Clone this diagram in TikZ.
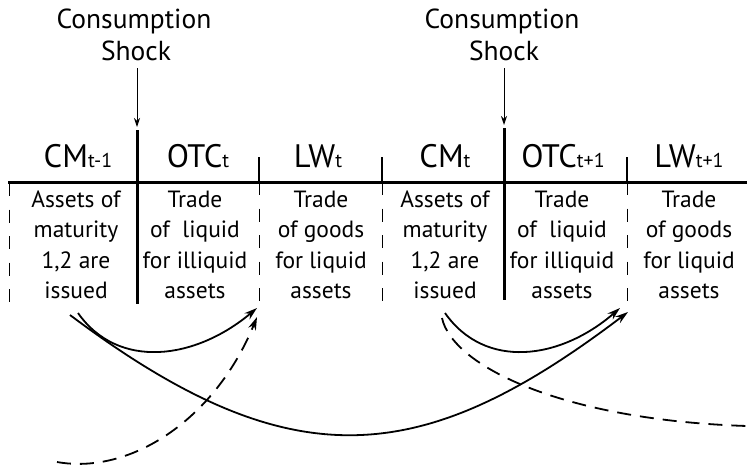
\documentclass[tikz,border=0pt]{standalone}
\usepackage{fontspec}
\setmainfont{PT Sans}
\usetikzlibrary{arrows.meta}
\newcommand\tsub[1]{{\fontsize{20}{23}\selectfont #1}}
\newcommand\bodycol[6]{%
  \node[body] (#1a) at (#2,207) {#3};
  \node[body] (#1b) at (#2,237.5) {#4};
  \node[body] (#1c) at (#2,268) {#5};
  \node[body] (#1d) at (#2,298.5) {#6};
}
\begin{document}
\begin{tikzpicture}[x=1pt,y=-1pt,
  body/.style={font=\fontsize{23.5}{27}\selectfont, anchor=base, inner sep=0pt},
  head/.style={font=\fontsize{32.5}{37}\selectfont, anchor=base, inner sep=0pt},
  shocktxt/.style={font=\fontsize{27.5}{31}\selectfont, anchor=base, inner sep=0pt},
  timeline/.style={line width=3pt},
  divider/.style={line width=3pt},
  tick/.style={line width=2.5pt},
  dashdiv/.style={line width=1pt, dash pattern=on 13pt off 13.5pt},
  shockarrow/.style={line width=1pt, -{Stealth[length=9pt,width=6pt]}},
  flow/.style={line width=1.8pt, -{Stealth[length=13pt,width=8pt]}},
  dashflow/.style={line width=1.8pt, dash pattern=on 14pt off 9pt},
  dflow/.style={flow, dashflow}
]
\useasboundingbox (0,0) rectangle (747,472);

% shock labels
\node[shocktxt] (sh1a) at (134,28) {Consumption};
\node[shocktxt] (sh1b) at (136,60) {Shock};
\node[shocktxt] (sh2a) at (502,28) {Consumption};
\node[shocktxt] (sh2b) at (504,60) {Shock};
\coordinate (sh1s) at (137,68);
\coordinate (sh1e) at (137,127);
\coordinate (sh2s) at (504,68);
\coordinate (sh2e) at (504,125);
\draw[shockarrow] (sh1s) -- (sh1e);
\draw[shockarrow] (sh2s) -- (sh2e);

% headers
\node[head] (h1) at (78,167) {CM\tsub{t-1}};
\node[head] (h2) at (198,167) {OTC\tsub{t}};
\node[head] (h3) at (318,167) {LW\tsub{t}};
\node[head] (h4) at (445,167) {CM\tsub{t}};
\node[head] (h5) at (563,167) {OTC\tsub{t+1}};
\node[head] (h6) at (689,167) {LW\tsub{t+1}};

% timeline
\coordinate (tl0) at (8,182);
\coordinate (tl1) at (747,182);
\draw[timeline] (tl0) -- (tl1);
\coordinate (d1t) at (137,130); \coordinate (d1b) at (137,304);
\coordinate (d2t) at (504,128); \coordinate (d2b) at (504,300);
\draw[divider] (d1t) -- (d1b);
\draw[divider] (d2t) -- (d2b);
\foreach \x/\n in {259/a,382/b,627/c}{
  \coordinate (tk\n t) at (\x,157);
  \coordinate (tk\n m) at (\x,182);
  \coordinate (tk\n b) at (\x,303);
  \draw[tick] (tk\n t) -- (tk\n m);
  \draw[dashdiv] (tk\n m) -- (tk\n b);
}
\coordinate (ld0) at (9,183); \coordinate (ld1) at (9,303);
\draw[dashdiv] (ld0) -- (ld1);

% body text
\bodycol{ca}{76}{Assets of}{maturity}{1,2 are}{issued}
\bodycol{cb}{195}{Trade}{of\ \ liquid}{for illiquid}{assets}
\bodycol{cc}{321}{Trade}{of goods}{for liquid}{assets}
\bodycol{cd}{445}{Assets of}{maturity}{1,2 are}{issued}
\bodycol{ce}{562}{Trade}{of\ \ liquid}{for illiquid}{assets}
\bodycol{cf}{689}{Trade}{of goods}{for liquid}{assets}

% flows
\coordinate (f1s) at (78,313);  \coordinate (f1e) at (257,308);
\coordinate (f2s) at (70,315);  \coordinate (f2e) at (628,312);
\coordinate (f3s) at (57,462);  \coordinate (f3e) at (257,317);
\coordinate (f4s) at (445,313); \coordinate (f4e) at (620,308);
\coordinate (f5s) at (442,318); \coordinate (f5e) at (747,426);
\draw[flow] (f1s) .. controls (118,370) and (195,360) .. (f1e);
\draw[flow] (f2s) .. controls (290,480) and (420,470) .. (f2e);
\draw[dflow] (f3s) .. controls (130,475) and (215,420) .. (f3e);
\draw[flow] (f4s) .. controls (485,370) and (560,360) .. (f4e);
\draw[dashflow] (f5s) .. controls (452,365) and (560,420) .. (f5e);
\end{tikzpicture}
\end{document}
